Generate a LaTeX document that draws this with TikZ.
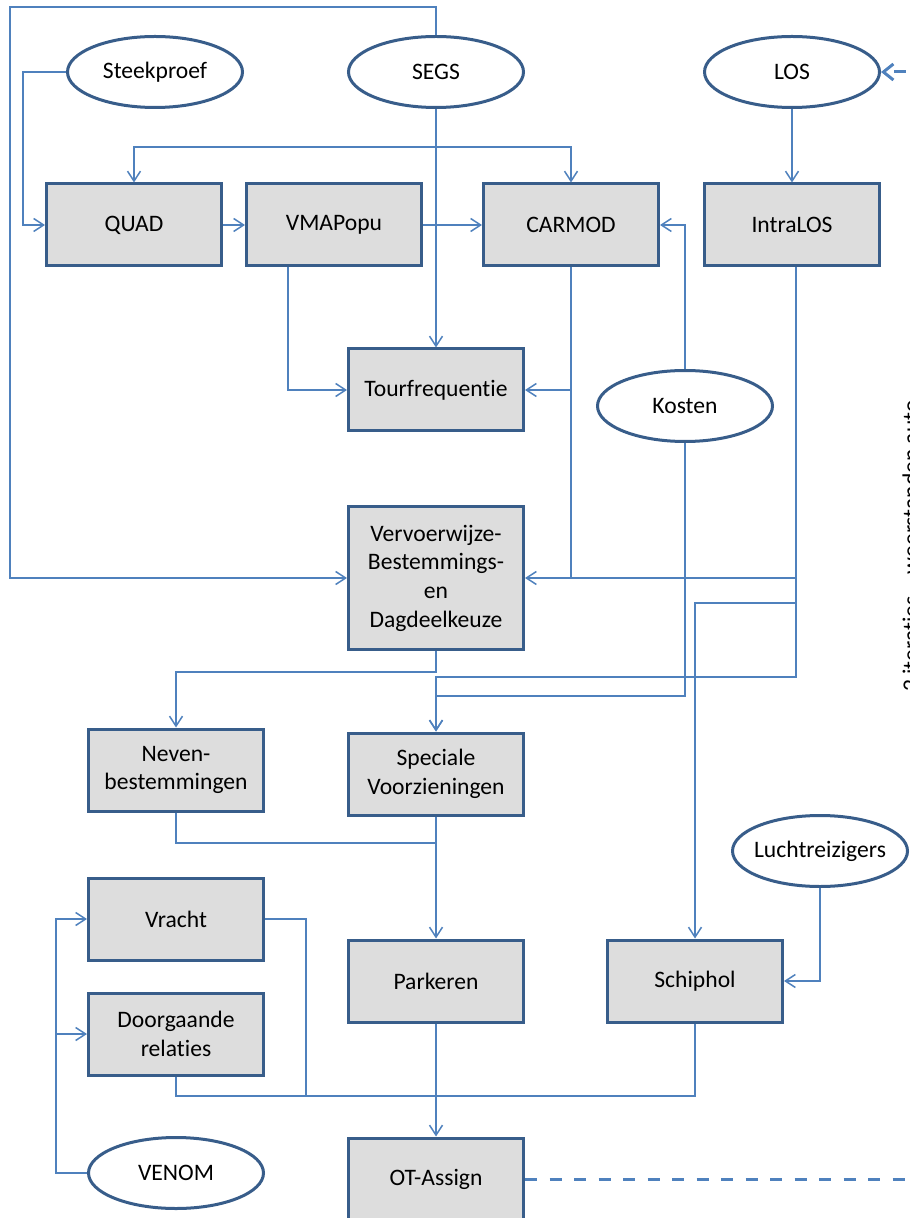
\documentclass[tikz,border=0pt]{standalone}
\usepackage{fontspec}
\setmainfont{Carlito}[Ligatures=NoCommon]
\usetikzlibrary{arrows.meta,shapes.geometric}
\definecolor{boxline}{RGB}{56,93,138}
\definecolor{boxfill}{RGB}{221,221,221}
\definecolor{conline}{RGB}{79,129,189}
\begin{document}
\begin{tikzpicture}[x=0.5pt,y=-0.5pt,
  txt/.style={font=\fontsize{11.8pt}{14.35pt}\selectfont, text=black},
  box/.style={txt, draw=boxline, line width=1.5pt, fill=boxfill, minimum width=87.5pt, minimum height=41pt, inner sep=2pt, align=center},
  oval/.style={txt, ellipse, draw=boxline, line width=1.5pt, fill=white, minimum width=87.5pt, minimum height=35.5pt, inner sep=0pt},
  conn/.style={draw=conline, line width=0.75pt},
  arr/.style={conn, -{Straight Barb[length=5pt,width=6.5pt]}},
  iterline/.style={draw=conline, line width=1.5pt, dash pattern=on 6pt off 6.25pt},
]
\clip (0,0) rectangle (909,1218);
% ellipses
\node[oval] (stk) at (155,72) {Steekproef};
\node[oval] (segs) at (436,72) {SEGS};
\node[oval] (los) at (792,72) {LOS};
\node[oval] (kosten) at (685,406) {Kosten};
\node[oval] (lucht) at (820,851) {\makebox[0pt][c]{Luchtreizigers}};
\node[oval] (venom) at (176,1173) {VENOM};
% boxes
\node[box] (quad) at (134,225) {QUAD};
\node[box] (vma) at (334,225) {VMAPopu};
\node[box] (carmod) at (571,225) {CARMOD};
\node[box] (intra) at (792,225) {IntraLOS};
\node[box] (tour) at (436,390) {Tourfrequentie};
\node[box, minimum height=71.5pt] (vvw) at (436,578) {Vervoerwijze-\\Bestemmings-\\en\\Dagdeelkeuze};
\node[box] (neven) at (176,770) {Neven-\\bestemmingen};
\node[box] (spec) at (436,774) {Speciale\\Voorzieningen};
\node[box] (vracht) at (176,919) {Vracht};
\node[box] (door) at (176,1034) {Doorgaande\\relaties};
\node[box] (park) at (436,981) {Parkeren};
\node[box] (schip) at (695,981) {Schiphol};
\node[box] (ot) at (436,1179) {OT-Assign};
% rotated label (cut by the right edge, as in the reference)
\node[txt, rotate=90, anchor=north, inner sep=0pt] (iter) at (902,546) {2 iteraties – weerstanden auto};
% coordinates
\coordinate (sb) at (436,147);
\coordinate (losin) at (930,72);
\coordinate (otout) at (930,1179);
% connectors
\draw[arr] (segs.north) |- (10,7) |- (vvw.west);
\draw[arr] (stk.west) -- ++(-43,0) |- (quad.west);
\draw[arr] (segs.south) -- (tour.north);
\draw[arr] (sb) -| (quad.north);
\draw[arr] (sb) -| (carmod.north);
\draw[arr] (quad.east) -- (vma.west);
\draw[arr] (vma.east) -- (carmod.west);
\draw[arr] ([xshift=-23pt]vma.south) |- (tour.west);
\draw[arr] (carmod.south) |- (vvw.east);
\draw[arr] (carmod.south |- tour.east) -- (tour.east);
\draw[arr] (kosten.north) |- (carmod.east);
\draw[arr] (kosten.south) |- (436,696) -- (spec.north);
\draw[arr] (los.south) -- (intra.north);
\draw[arr] ([xshift=2pt]intra.south) |- (436,677) -- (spec.north);
\draw[conn] ([xshift=2pt]intra.south |- vvw.east) -- (carmod.south |- vvw.east);
\draw[arr] (796,603) -| (schip.north);
\draw[arr] (vvw.south) -- ++(0,21) -| (neven.north);
\draw[conn] (neven.south) |- (436,843);
\draw[arr] (spec.south) -- (park.north);
\draw[conn] (vracht.east) -| (306,1096);
\draw[conn] (door.south) |- (436,1096);
\draw[conn] (schip.south) |- (436,1096);
\draw[arr] (park.south) -- (ot.north);
\draw[arr] (venom.west) -- ++(-31,0) |- (vracht.west);
\draw[arr] (56,1034) -- (door.west);
\draw[arr] (lucht.south) |- (schip.east);
\draw[iterline, -{Straight Barb[length=5pt,width=8pt]}] (losin) -- (los.east);
\draw[iterline] (ot.east) -- (otout);
\end{tikzpicture}
\end{document}
